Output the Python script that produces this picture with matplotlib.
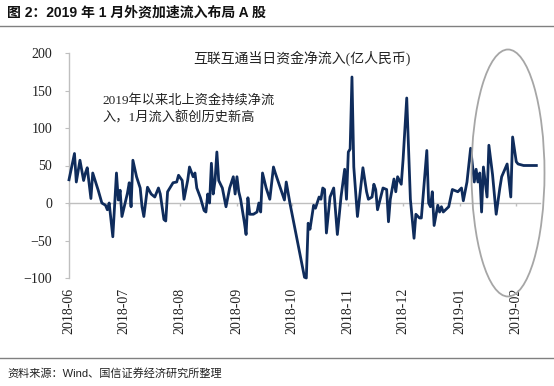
import matplotlib
matplotlib.use('Agg')
import matplotlib.pyplot as plt
import matplotlib.dates as mdates
from matplotlib.patches import Ellipse
from matplotlib.lines import Line2D
import pandas as pd

# ---------------- data ----------------
dates = [
    '2018-06-01', '2018-06-04', '2018-06-05', '2018-06-07', '2018-06-09', '2018-06-10',
    '2018-06-11', '2018-06-13', '2018-06-14', '2018-06-17', '2018-06-19', '2018-06-21',
    '2018-06-22', '2018-06-23', '2018-06-25', '2018-06-27', '2018-06-28', '2018-06-29',
    '2018-06-30', '2018-07-03', '2018-07-04', '2018-07-05', '2018-07-06', '2018-07-08',
    '2018-07-10', '2018-07-11', '2018-07-12', '2018-07-14', '2018-07-16', '2018-07-18',
    '2018-07-20', '2018-07-21', '2018-07-23', '2018-07-24', '2018-07-25', '2018-07-28',
    '2018-07-30', '2018-07-31', '2018-08-02', '2018-08-03', '2018-08-05', '2018-08-06',
    '2018-08-08', '2018-08-09', '2018-08-10', '2018-08-12', '2018-08-14', '2018-08-15',
    '2018-08-16', '2018-08-17', '2018-08-18', '2018-08-19', '2018-08-20', '2018-08-21',
    '2018-08-22', '2018-08-24', '2018-08-26', '2018-08-28', '2018-08-30', '2018-08-31',
    '2018-09-01', '2018-09-02', '2018-09-03', '2018-09-05', '2018-09-06', '2018-09-07',
    '2018-09-08', '2018-09-10', '2018-09-12', '2018-09-13', '2018-09-14', '2018-09-15',
    '2018-09-17', '2018-09-19', '2018-09-21', '2018-09-22', '2018-09-27', '2018-09-28',
    '2018-09-30', '2018-10-08', '2018-10-09', '2018-10-10', '2018-10-11', '2018-10-13',
    '2018-10-14', '2018-10-16', '2018-10-17', '2018-10-18', '2018-10-19', '2018-10-20',
    '2018-10-22', '2018-10-24', '2018-10-26', '2018-10-28', '2018-10-30', '2018-10-31',
    '2018-11-01', '2018-11-02', '2018-11-03', '2018-11-04', '2018-11-06', '2018-11-09',
    '2018-11-11', '2018-11-12', '2018-11-14', '2018-11-15', '2018-11-16', '2018-11-17',
    '2018-11-20', '2018-11-22', '2018-11-23', '2018-11-24', '2018-11-26', '2018-11-27',
    '2018-11-28', '2018-11-30', '2018-12-01', '2018-12-02', '2018-12-03', '2018-12-05',
    '2018-12-07', '2018-12-08', '2018-12-10', '2018-12-11', '2018-12-14', '2018-12-15',
    '2018-12-16', '2018-12-17', '2018-12-18', '2018-12-20', '2018-12-21', '2018-12-22',
    '2018-12-23', '2018-12-26', '2018-12-28', '2018-12-31', '2019-01-02', '2019-01-03',
    '2019-01-05', '2019-01-07', '2019-01-09', '2019-01-10', '2019-01-11', '2019-01-12',
    '2019-01-13', '2019-01-14', '2019-01-16', '2019-01-17', '2019-01-19', '2019-01-21',
    '2019-01-23', '2019-01-24', '2019-01-27', '2019-01-29', '2019-01-30', '2019-02-01',
    '2019-02-02', '2019-02-05', '2019-02-12',
]
net_inflow = [
    31, 66, 28, 57, 30, 40,
    47, 6, 40, 17, 0, -3,
    -9, 0, -45, 40, 4, 17,
    -18, 13, 27, -5, 57, 35,
    20, -5, -18, 21, 12, 8,
    20, 12, -22, -24, 15, 27,
    28, 37, 30, 5, 30, 48,
    35, 40, 20, 7, -10, -12,
    12, 0, 53, 12, 30, 68,
    30, 20, -5, 20, 35, 12,
    35, 15, 5, -25, -42, 7,
    -15, -15, -12, 0, -12, 40,
    20, 5, 48, 40, 4, 28,
    0, -99, -100, -27, -35, -3,
    -7, 8, 5, 20, 18, -40,
    8, 20, -42, 8, 45, 5,
    68, 72, 168, 48, -18, 47,
    15, 5, 8, 25, 18, -9,
    20, 18, -25, 5, 32, 15,
    35, 25, 58, 100, 140, 5,
    -47, -15, -20, -20, 70, 0,
    -5, 15, -30, -3, -12, -5,
    -12, -5, 18, 15, 20, 3,
    28, 73, 28, 45, 28, 40,
    -12, 48, 8, 77, 38, -15,
    20, 35, 52, 8, 88, 55,
    52, 50, 50,
]
month_ticks = ['2018-06-01', '2018-07-01', '2018-08-01', '2018-09-01', '2018-10-01',
               '2018-11-01', '2018-12-01', '2019-01-01', '2019-02-01']
month_labels = ['2018-06', '2018-07', '2018-08', '2018-09', '2018-10',
                '2018-11', '2018-12', '2019-01', '2019-02']
y_ticks = [-100, -50, 0, 50, 100, 150, 200]

title = '图 2：2019 年 1 月外资加速流入布局 A 股'
series_label = '互联互通当日资金净流入(亿人民币)'
note = '2019年以来北上资金持续净流\n入，1月流入额创历史新高'
source = '资料来源：Wind、国信证券经济研究所整理'

# ---------------- style ----------------
plt.rcParams['font.family'] = ['Noto Sans CJK SC', 'DejaVu Sans']
W, H = 554, 386
GRAY = '#bfbfbf'
LINE = '#0f2c5c'
serif = ['Liberation Serif', 'Noto Sans CJK SC']
sans = ['Liberation Sans', 'Noto Sans CJK SC']

fig = plt.figure(figsize=(W / 100, H / 100), dpi=100)
fig.patch.set_facecolor('white')
ax = fig.add_axes([69 / W, 1 - 278 / H, (540 - 69) / W, (278 - 53) / H])

x = pd.to_datetime(dates)
ax.plot(x, net_inflow, color=LINE, lw=2.0, solid_joinstyle='round', clip_on=False, zorder=3)

ymin, ymax = -100, 200
ax.set_ylim(ymin, ymax)
ax.set_xlim(pd.Timestamp('2018-06-01'), pd.Timestamp('2019-02-14'))

for s in ['top', 'right', 'bottom']:
    ax.spines[s].set_visible(False)
ax.spines['left'].set_color(GRAY)
ax.spines['left'].set_linewidth(1.0)

ax.set_yticks(y_ticks)
ax.tick_params(axis='y', direction='out', length=3, color=GRAY, pad=9, labelsize=10,
               labelcolor='#222222')
for lab in ax.get_yticklabels():
    lab.set_fontfamily(serif)

tick_dt = pd.to_datetime(month_ticks)
ax.set_xticks(tick_dt)
ax.set_xticklabels(month_labels, rotation=90, fontfamily=serif, fontsize=10, color='#222222')
ax.tick_params(axis='x', length=0, pad=7)

# zero axis line with month tick marks
zero_frac = (0 - ymin) / (ymax - ymin)
sec = ax.secondary_xaxis(zero_frac)
sec.set_xticks(mdates.date2num(tick_dt))
sec.set_xticklabels([])
sec.tick_params(axis='x', direction='out', length=2.5, color=GRAY, width=1)
for s in sec.spines.values():
    s.set_color(GRAY)
    s.set_linewidth(1.0)

# in-plot texts
ax.text(193 / W, 1 - 58 / H, series_label, transform=fig.transFigure, fontsize=10,
        fontfamily=serif, ha='left', va='center', color='#222222')
ax.text(102 / W, 1 - 94 / H, note, transform=fig.transFigure, fontsize=9.5,
        fontfamily=serif, ha='left', va='top', color='#222222', linespacing=1.45)

# highlight ellipse
fig.add_artist(Ellipse((508 / W, 1 - 173 / H), 73 / W, 247 / H, transform=fig.transFigure,
                       fill=False, ec='#a6a6a6', lw=1.3))

# title, rules, source
fig.text(7 / W, 1 - 13 / H, title, fontsize=10, fontweight='bold', fontfamily=sans,
         ha='left', va='center', color='#111111')
fig.add_artist(Line2D([0, 1], [1 - 26 / H, 1 - 26 / H], transform=fig.transFigure,
                      color='#808080', lw=1.0))
fig.add_artist(Line2D([0, 1], [1 - 358 / H, 1 - 358 / H], transform=fig.transFigure,
                      color='#808080', lw=1.0))
fig.text(7 / W, 1 - 373 / H, source, fontsize=8, fontfamily=sans, ha='left', va='center',
         color='#222222')

fig.savefig('out.png', dpi=100)
